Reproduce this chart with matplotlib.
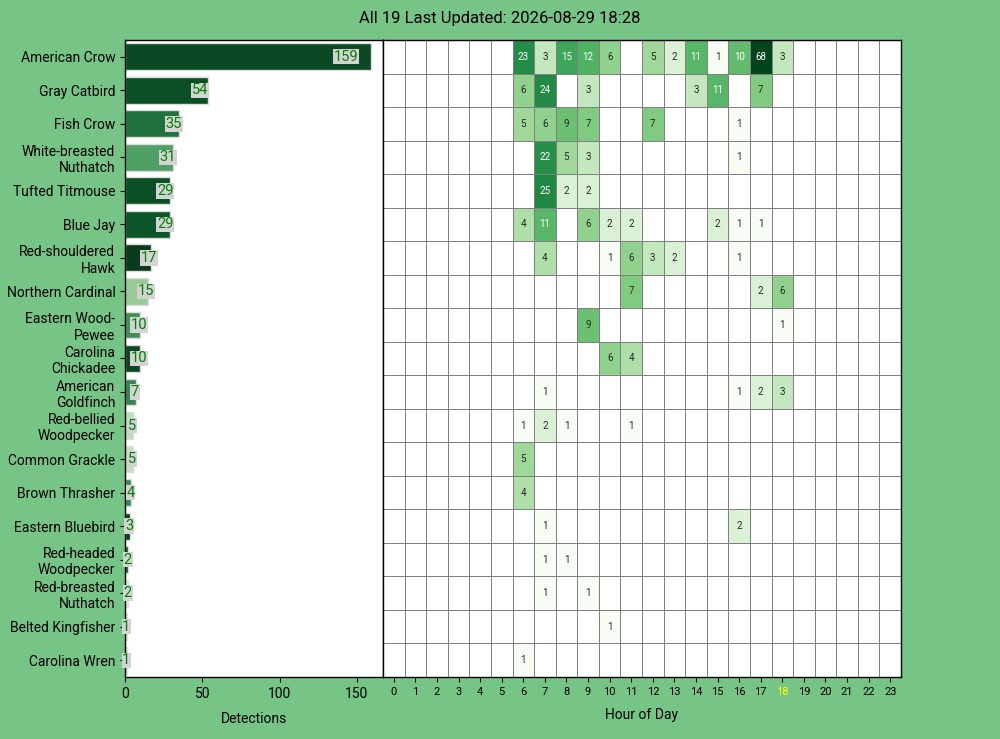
import colorsys
import textwrap
import matplotlib.pyplot as plt
import matplotlib.colors as mcolors
import numpy as np

plt.rcParams['font.family'] = ['Roboto', 'DejaVu Sans']

# species sorted by detections
species = [
    'American Crow', 'Gray Catbird', 'Fish Crow', 'White-breasted Nuthatch',
    'Tufted Titmouse', 'Blue Jay', 'Red-shouldered Hawk', 'Northern Cardinal',
    'Eastern Wood-Pewee', 'Carolina Chickadee', 'American Goldfinch',
    'Red-bellied Woodpecker', 'Common Grackle', 'Brown Thrasher',
    'Eastern Bluebird', 'Red-headed Woodpecker', 'Red-breasted Nuthatch',
    'Belted Kingfisher', 'Carolina Wren',
]
totals = [159, 54, 35, 31, 29, 29, 17, 15, 10, 10, 7, 5, 5, 4, 3, 2, 2, 1, 1]
# shade of each bar on the Greens scale (0..1)
bar_shade = [0.95, 0.93, 0.80, 0.62, 0.93, 0.91, 1.00, 0.42, 0.68, 0.96,
             0.72, 0.30, 0.28, 0.70, 0.99, 0.95, 0.18, 0.15, 0.15]

hours = list(range(24))
current_hour = 18

# detections per hour (0..23) for each species
hourly = [
    [0, 0, 0, 0, 0, 0, 23, 3, 15, 12, 6, 0, 5, 2, 11, 1, 10, 68, 3, 0, 0, 0, 0, 0],
    [0, 0, 0, 0, 0, 0, 6, 24, 0, 3, 0, 0, 0, 0, 3, 11, 0, 7, 0, 0, 0, 0, 0, 0],
    [0, 0, 0, 0, 0, 0, 5, 6, 9, 7, 0, 0, 7, 0, 0, 0, 1, 0, 0, 0, 0, 0, 0, 0],
    [0, 0, 0, 0, 0, 0, 0, 22, 5, 3, 0, 0, 0, 0, 0, 0, 1, 0, 0, 0, 0, 0, 0, 0],
    [0, 0, 0, 0, 0, 0, 0, 25, 2, 2, 0, 0, 0, 0, 0, 0, 0, 0, 0, 0, 0, 0, 0, 0],
    [0, 0, 0, 0, 0, 0, 4, 11, 0, 6, 2, 2, 0, 0, 0, 2, 1, 1, 0, 0, 0, 0, 0, 0],
    [0, 0, 0, 0, 0, 0, 0, 4, 0, 0, 1, 6, 3, 2, 0, 0, 1, 0, 0, 0, 0, 0, 0, 0],
    [0, 0, 0, 0, 0, 0, 0, 0, 0, 0, 0, 7, 0, 0, 0, 0, 0, 2, 6, 0, 0, 0, 0, 0],
    [0, 0, 0, 0, 0, 0, 0, 0, 0, 9, 0, 0, 0, 0, 0, 0, 0, 0, 1, 0, 0, 0, 0, 0],
    [0, 0, 0, 0, 0, 0, 0, 0, 0, 0, 6, 4, 0, 0, 0, 0, 0, 0, 0, 0, 0, 0, 0, 0],
    [0, 0, 0, 0, 0, 0, 0, 1, 0, 0, 0, 0, 0, 0, 0, 0, 1, 2, 3, 0, 0, 0, 0, 0],
    [0, 0, 0, 0, 0, 0, 1, 2, 1, 0, 0, 1, 0, 0, 0, 0, 0, 0, 0, 0, 0, 0, 0, 0],
    [0, 0, 0, 0, 0, 0, 5, 0, 0, 0, 0, 0, 0, 0, 0, 0, 0, 0, 0, 0, 0, 0, 0, 0],
    [0, 0, 0, 0, 0, 0, 4, 0, 0, 0, 0, 0, 0, 0, 0, 0, 0, 0, 0, 0, 0, 0, 0, 0],
    [0, 0, 0, 0, 0, 0, 0, 1, 0, 0, 0, 0, 0, 0, 0, 0, 2, 0, 0, 0, 0, 0, 0, 0],
    [0, 0, 0, 0, 0, 0, 0, 1, 1, 0, 0, 0, 0, 0, 0, 0, 0, 0, 0, 0, 0, 0, 0, 0],
    [0, 0, 0, 0, 0, 0, 0, 1, 0, 1, 0, 0, 0, 0, 0, 0, 0, 0, 0, 0, 0, 0, 0, 0],
    [0, 0, 0, 0, 0, 0, 0, 0, 0, 0, 1, 0, 0, 0, 0, 0, 0, 0, 0, 0, 0, 0, 0, 0],
    [0, 0, 0, 0, 0, 0, 1, 0, 0, 0, 0, 0, 0, 0, 0, 0, 0, 0, 0, 0, 0, 0, 0, 0],
]

title = 'All 19 Last Updated: 2026-08-29 18:28'

bg = '#77C487'
fig = plt.figure(figsize=(10, 7.39), dpi=100, facecolor=bg)

ax1 = fig.add_axes([0.125, 0.0839, 0.258, 0.862])
ax2 = fig.add_axes([0.383, 0.0839, 0.518, 0.862])

greens = plt.get_cmap('Greens')


def desat(rgba, amount=0.75):
    # seaborn-like saturation reduction for bar faces
    h, l, s = colorsys.rgb_to_hls(*rgba[:3])
    return colorsys.hls_to_rgb(h, l, s * amount)


# --- left: total detections per species
y = np.arange(len(species))
ax1.barh(y, totals, height=0.8, color=[desat(greens(s)) for s in bar_shade],
         edgecolor='#dcdcdc', linewidth=1)
ax1.set_ylim(len(species) - 0.5, -0.5)
ax1.set_xlim(0, max(totals) * 1.05)
ax1.set_yticks(y)
ax1.set_yticklabels([textwrap.fill(s, 17) for s in species], fontsize=10)
ax1.tick_params(axis='x', labelsize=10)
ax1.set_xlabel('Detections', fontsize=10, labelpad=8)
for yi, v in zip(y, totals):
    ax1.text(v * 0.9, yi, str(v), ha='center', va='center', fontsize=10.5,
             color='green',
             bbox=dict(boxstyle='square,pad=0.05', facecolor='lightgrey',
                       edgecolor='none'))

# --- right: hourly heatmap
data = np.array(hourly, dtype=float)
masked = np.ma.masked_where(data == 0, data)
cmap = greens.copy()
cmap.set_bad('white')
norm = mcolors.LogNorm(vmin=1, vmax=data.max())
ax2.pcolormesh(np.arange(25), np.arange(len(species) + 1), masked,
               cmap=cmap, norm=norm, edgecolors='#808080', linewidth=0.6)
ax2.set_xlim(0, 24)
ax2.set_ylim(len(species), 0)


def text_color(rgba):
    r, g, b = [c / 12.92 if c <= 0.03928 else ((c + 0.055) / 1.055) ** 2.4
               for c in rgba[:3]]
    lum = 0.2126 * r + 0.7152 * g + 0.0722 * b
    return '#262626' if lum > 0.408 else 'white'


for i in range(data.shape[0]):
    for j in range(data.shape[1]):
        v = data[i, j]
        if v > 0:
            ax2.text(j + 0.5, i + 0.5, f'{int(v)}', ha='center', va='center',
                     fontsize=7, color=text_color(cmap(norm(v))))

ax2.set_xticks(np.array(hours) + 0.5)
ax2.set_xticklabels([str(h) for h in hours], fontsize=8)
for lbl, h in zip(ax2.get_xticklabels(), hours):
    if h == current_hour:
        lbl.set_color('yellow')
ax2.set_yticks([])
ax2.set_xlabel('Hour of Day', fontsize=10, labelpad=8)

for ax in (ax1, ax2):
    for sp in ax.spines.values():
        sp.set_color('black')
        sp.set_linewidth(1)

fig.text(0.5, 0.9756, title, ha='center', va='center', fontsize=12)

fig.savefig('out.png', dpi=100, facecolor=bg)
